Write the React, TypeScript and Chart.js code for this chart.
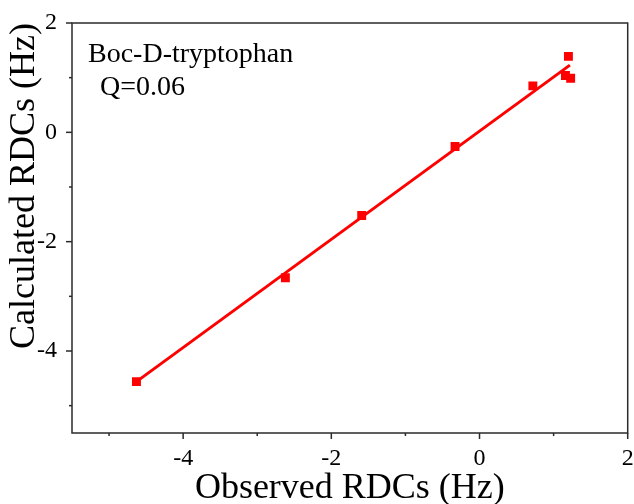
import React, { useEffect, useRef } from "react";
import { Chart, registerables } from "chart.js";

Chart.register(...registerables);

// Observed vs. back-calculated residual dipolar couplings (Hz)
const observedRDC = [-4.63, -2.62, -1.59, -0.33, 0.72, 1.2, 1.16, 1.23];
const calculatedRDC = [-4.56, -2.66, -1.52, -0.26, 0.85, 1.39, 1.04, 0.99];

// End points of the linear fit through the data
const fitX = [-4.63, 1.22];
const fitY = [-4.56, 1.23];

const axisMin = -5.5;
const axisMax = 2;
const majorStep = 2;
const minorStep = 1;

const sampleName = "Boc-D-tryptophan";
const qFactor = "Q=0.06";

const SERIF = '"Liberation Serif", "Times New Roman", serif';
const AXIS_COLOR = "#2a2a2a";
const RED = "#ff0000";

const framePlugin = {
  id: "frameAndTicks",
  afterDraw(chart: any) {
    const { ctx, chartArea, scales } = chart;
    const { left, right, top, bottom } = chartArea;
    ctx.save();
    ctx.strokeStyle = AXIS_COLOR;
    ctx.lineWidth = 1.5;
    ctx.strokeRect(left, top, right - left, bottom - top);

    const start = Math.ceil(axisMin / minorStep) * minorStep;
    for (let v = start; v <= axisMax + 1e-9; v += minorStep) {
      const isMajor = Math.abs(v / majorStep - Math.round(v / majorStep)) < 1e-9;
      const len = isMajor ? 6 : 3;
      const px = scales.x.getPixelForValue(v);
      ctx.beginPath();
      ctx.moveTo(px, bottom);
      ctx.lineTo(px, bottom + len);
      ctx.stroke();
      const py = scales.y.getPixelForValue(v);
      ctx.beginPath();
      ctx.moveTo(left, py);
      ctx.lineTo(left - len, py);
      ctx.stroke();
    }

    // sample label in the upper-left corner of the plot
    ctx.fillStyle = "#000";
    ctx.font = `28px ${SERIF}`;
    ctx.textBaseline = "alphabetic";
    ctx.textAlign = "left";
    ctx.fillText(sampleName, left + 16, top + 39);
    ctx.fillText(qFactor, left + 28, top + 72);
    ctx.restore();
  },
};

export default function App() {
  const canvasRef = useRef<HTMLCanvasElement | null>(null);

  useEffect(() => {
    if (!canvasRef.current) return;
    const points = observedRDC.map((x, i) => ({ x, y: calculatedRDC[i] }));
    const fit = fitX.map((x, i) => ({ x, y: fitY[i] }));

    const tickFont = { family: SERIF, size: 24 };
    const titleFont = { family: SERIF, size: 36, lineHeight: 1.2 };

    const chart = new Chart(canvasRef.current, {
      type: "scatter",
      data: {
        datasets: [
          {
            type: "line",
            data: fit,
            borderColor: RED,
            borderWidth: 3,
            pointRadius: 0,
            fill: false,
            order: 2,
          },
          {
            type: "scatter",
            data: points,
            pointStyle: "rect",
            pointRadius: 6.3,
            pointBackgroundColor: RED,
            pointBorderWidth: 0,
            borderColor: RED,
            order: 1,
          },
        ],
      },
      options: {
        responsive: false,
        animation: false,
        events: [],
        layout: { padding: { top: 23, right: 5, left: 0, bottom: 0 } },
        plugins: {
          legend: { display: false },
          tooltip: { enabled: false },
        },
        scales: {
          x: {
            type: "linear",
            min: axisMin,
            max: axisMax,
            border: { display: false },
            grid: { drawOnChartArea: false, drawTicks: false },
            ticks: {
              stepSize: majorStep,
              includeBounds: false,
              padding: 11,
              color: "#000",
              font: tickFont,
              maxRotation: 0,
            },
            title: {
              display: true,
              text: "Observed RDCs (Hz)",
              color: "#000",
              font: titleFont,
              padding: { top: 0, bottom: -6 },
            },
            afterFit(scale: any) {
              scale.height = 71;
              scale.paddingLeft = 0;
              scale.paddingRight = 0;
            },
          },
          y: {
            type: "linear",
            min: axisMin,
            max: axisMax,
            border: { display: false },
            grid: { drawOnChartArea: false, drawTicks: false },
            ticks: {
              stepSize: majorStep,
              includeBounds: false,
              padding: 15,
              color: "#000",
              font: tickFont,
            },
            title: {
              display: true,
              text: "Calculated RDCs (Hz)",
              align: "end",
              color: "#000",
              font: titleFont,
              padding: { top: 3, bottom: 0 },
            },
            afterFit(scale: any) {
              scale.width = 72;
              scale.paddingTop = 0;
              scale.paddingBottom = 0;
            },
          },
        },
      },
      plugins: [framePlugin],
    });

    return () => chart.destroy();
  }, []);

  return (
    <div
      style={{
        position: "fixed",
        left: 0,
        top: 0,
        width: 634,
        height: 504,
        background: "#fff",
      }}
    >
      <canvas ref={canvasRef} width={634} height={504} />
    </div>
  );
}
